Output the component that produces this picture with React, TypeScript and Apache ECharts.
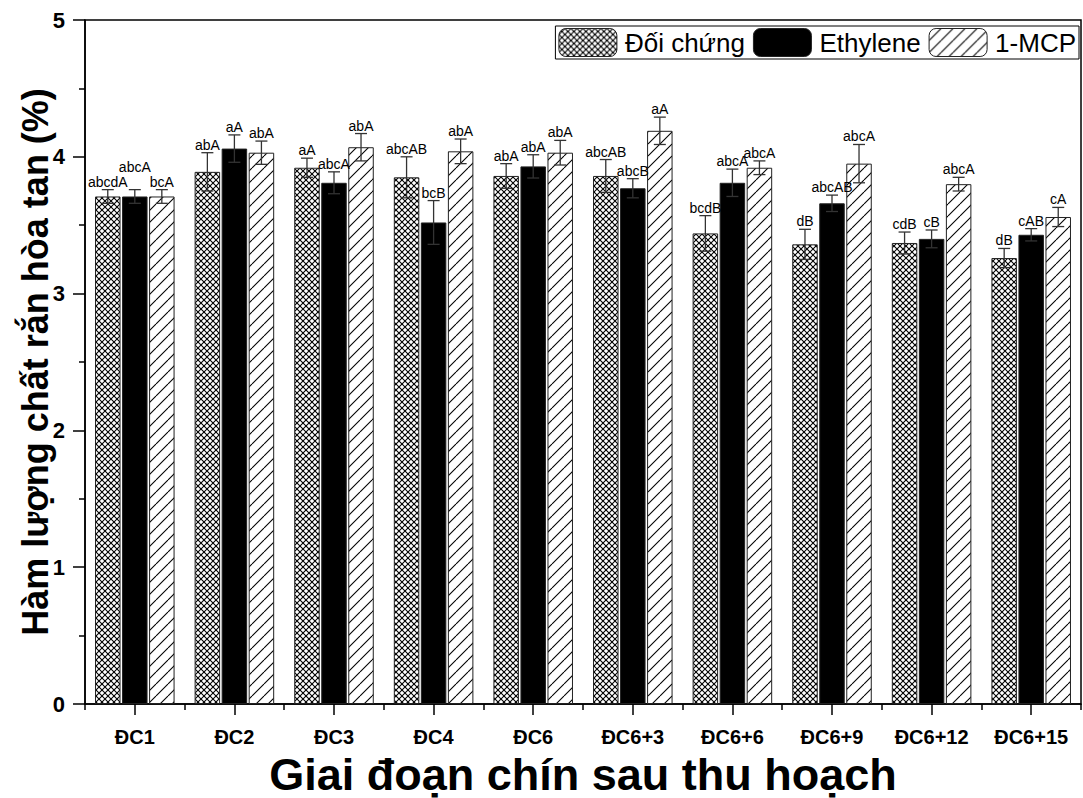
import React, { useEffect, useRef } from "react";
import * as echarts from "echarts";

const categories = ["ĐC1", "ĐC2", "ĐC3", "ĐC4", "ĐC6", "ĐC6+3", "ĐC6+6", "ĐC6+9", "ĐC6+12", "ĐC6+15"];
const seriesNames = ["Đối chứng", "Ethylene", "1-MCP"];

const controlValues = [3.71, 3.89, 3.92, 3.85, 3.86, 3.86, 3.44, 3.36, 3.37, 3.26];
const controlErrors = [0.05, 0.14, 0.07, 0.15, 0.09, 0.12, 0.13, 0.11, 0.08, 0.07];
const controlLabels = ["abcdA", "abA", "aA", "abcAB", "abA", "abcAB", "bcdB", "dB", "cdB", "dB"];

const ethyleneValues = [3.71, 4.06, 3.81, 3.52, 3.93, 3.77, 3.81, 3.66, 3.4, 3.43];
const ethyleneErrors = [0.05, 0.1, 0.08, 0.16, 0.085, 0.07, 0.1, 0.06, 0.065, 0.045];
const ethyleneLabels = ["abcA", "aA", "abcA", "bcB", "abA", "abcB", "abcA", "abcAB", "cB", "cAB"];

const mcpValues = [3.71, 4.03, 4.07, 4.04, 4.03, 4.19, 3.92, 3.95, 3.8, 3.56];
const mcpErrors = [0.05, 0.085, 0.1, 0.09, 0.09, 0.1, 0.05, 0.14, 0.05, 0.07];
const mcpLabels = ["bcA", "abA", "abA", "abA", "abA", "aA", "abcA", "abcA", "abcA", "cA"];

const yTicks = [0, 1, 2, 3, 4, 5];

const FONT = '"Liberation Sans", Arial, Helvetica, sans-serif';

function hatch(size: number, dirs: string[]) {
  const c = document.createElement("canvas");
  c.width = size;
  c.height = size;
  const ctx = c.getContext("2d")!;
  ctx.fillStyle = "#fff";
  ctx.fillRect(0, 0, size, size);
  ctx.strokeStyle = "#000";
  ctx.lineWidth = 1.1;
  for (const d of dirs) {
    for (const k of [-1, 0, 1]) {
      ctx.beginPath();
      if (d === "/") {
        ctx.moveTo(k * size, size);
        ctx.lineTo(k * size + size, 0);
      } else {
        ctx.moveTo(k * size, 0);
        ctx.lineTo(k * size + size, size);
      }
      ctx.stroke();
    }
  }
  return { image: c.toDataURL(), repeat: "repeat", imageWidth: size, imageHeight: size };
}

const BAR_W = 0.256;
const BAR_GAP = 0.06;

export default function App() {
  const ref = useRef<HTMLDivElement>(null);
  useEffect(() => {
    if (!ref.current) return;
    const chart = echarts.init(ref.current, null, { renderer: "svg" });
    const cross = hatch(6, ["/", "\\"]);
    const diag = hatch(12, ["/"]);
    const fills: any[] = [cross, "#000", diag];
    const values = [controlValues, ethyleneValues, mcpValues];
    const errors = [controlErrors, ethyleneErrors, mcpErrors];
    const labels = [controlLabels, ethyleneLabels, mcpLabels];

    const barSeries = seriesNames.map((name, k) => ({
      name,
      type: "bar",
      data: values[k],
      barWidth: BAR_W * 100 + "%",
      barGap: BAR_GAP * 100 + "%",
      itemStyle: { color: fills[k], borderColor: "#222", borderWidth: 1 },
      z: 2,
    }));

    const errSeries = seriesNames.map((name, k) => ({
      name: name + " err",
      type: "custom",
      z: 5,
      data: values[k].map((v, i) => [i, v, errors[k][i]]),
      encode: { x: 0, y: 1 },
      renderItem: (params: any, api: any) => {
        const i = api.value(0);
        const v = api.value(1);
        const e = api.value(2);
        const band = api.size([1, 0])[0];
        const bw = band * BAR_W;
        const gap = bw * BAR_GAP;
        const cx = api.coord([i, v])[0] + (k - 1) * (bw + gap);
        const yTop = api.coord([i, v + e])[1];
        const yBot = api.coord([i, v - e])[1];
        const cap = 6;
        const ls = { stroke: "#333", lineWidth: 1.3 };
        const lift = k === 1 && i === 0 ? 15 : 0;
        return {
          type: "group",
          children: [
            { type: "line", shape: { x1: cx, y1: yTop, x2: cx, y2: yBot }, style: ls },
            { type: "line", shape: { x1: cx - cap, y1: yTop, x2: cx + cap, y2: yTop }, style: ls },
            { type: "line", shape: { x1: cx - cap, y1: yBot, x2: cx + cap, y2: yBot }, style: ls },
            {
              type: "text",
              x: cx,
              y: yTop - 1 - lift,
              style: {
                text: labels[k][i],
                fill: "#000",
                font: `14px ${FONT}`,
                align: "center",
                verticalAlign: "bottom",
              },
            },
          ],
        };
      },
    }));

    chart.setOption({
      animation: false,
      backgroundColor: "#fff",
      textStyle: { fontFamily: FONT },
      grid: {
        left: 85,
        right: 2,
        top: 20,
        bottom: 94,
        containLabel: false,
        outerBoundsMode: "none",
        show: true,
        borderColor: "#000",
        borderWidth: 1.5,
        backgroundColor: "transparent",
      },
      legend: {
        data: seriesNames,
        right: 4,
        top: 26,
        orient: "horizontal",
        itemWidth: 58,
        itemHeight: 28,
        itemGap: 8,
        padding: [2, 3, 2, 3],
        borderColor: "#000",
        borderWidth: 1,
        backgroundColor: "#fff",
        itemStyle: { borderColor: "#222", borderWidth: 1 },
        textStyle: { fontSize: 26, color: "#000", fontFamily: FONT, padding: [0, 0, 0, 3] },
      },
      xAxis: [
        {
          type: "category",
          data: categories,
          position: "bottom",
          name: "Giai đoạn chín sau thu hoạch",
          nameLocation: "middle",
          nameGap: 50,
          nameMoveOverlap: false,
          nameTextStyle: { fontSize: 45, lineHeight: 40, fontWeight: "bold", color: "#000", fontFamily: FONT },
          axisLine: { show: true, lineStyle: { color: "#000", width: 1.5 } },
          axisTick: { show: true, alignWithLabel: true, inside: false, length: 11, lineStyle: { color: "#000", width: 1.5 } },
          axisLabel: { fontSize: 20, fontWeight: "bold", color: "#000", margin: 23, fontFamily: FONT },
          splitLine: { show: false },
        },
        {
          type: "category",
          data: categories,
          position: "bottom",
          axisLine: { show: false },
          axisTick: { show: true, length: 6, lineStyle: { color: "#000", width: 1.5 } },
          axisLabel: { show: false },
          splitLine: { show: false },
        },
      ],
      yAxis: {
        type: "value",
        min: yTicks[0],
        max: yTicks[yTicks.length - 1],
        interval: 1,
        name: "Hàm lượng chất rắn hòa tan (%)",
        nameLocation: "middle",
        nameGap: 32,
        nameMoveOverlap: false,
        nameTextStyle: { fontSize: 36, lineHeight: 36, fontWeight: "bold", color: "#000", fontFamily: FONT },
        axisLine: { show: true, lineStyle: { color: "#000", width: 1.5 } },
        axisTick: { show: true, inside: false, length: 12, lineStyle: { color: "#000", width: 1.5 } },
        minorTick: { show: true, splitNumber: 2, length: 6, lineStyle: { color: "#000", width: 1.5 } },
        axisLabel: { fontSize: 22, fontWeight: "bold", color: "#000", margin: 20, fontFamily: FONT },
        splitLine: { show: false },
        minorSplitLine: { show: false },
      },
      series: [...barSeries, ...errSeries],
    });
    return () => chart.dispose();
  }, []);
  return (
    <div
      ref={ref}
      style={{ position: "fixed", left: 0, top: 0, width: 1083, height: 798, background: "#fff" }}
    />
  );
}
